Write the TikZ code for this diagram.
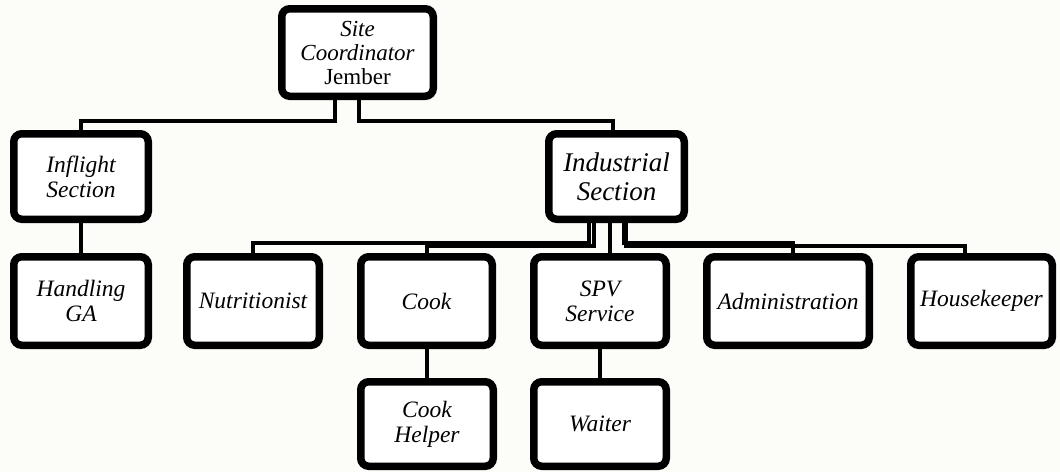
\documentclass[tikz,border=0pt]{standalone}
\usepackage{fontspec}
\setmainfont{Liberation Serif}
\usetikzlibrary{shadows}
\definecolor{bgc}{HTML}{FCFCF8}
\tikzset{
  box/.style={draw=black, line width=7.5pt, rounded corners=8pt, fill=white,
    inner sep=0pt, align=center, font=\fontsize{23.5}{25}\selectfont\itshape,
    drop shadow={opacity=0.18, shadow xshift=2pt, shadow yshift=-3pt}},
  conn/.style={draw=black, line width=4.5pt}
}
\begin{document}
\begin{tikzpicture}[x=1pt,y=-1pt]
\fill[bgc] (0,0) rectangle (1060,472);
\useasboundingbox (0,0) rectangle (1060,472);
% top
\node[box, minimum width=151.5pt, minimum height=87.5pt, font=\fontsize{23}{24}\selectfont\itshape] (site) at (357.5,52.5) {Site\\Coordinator\\\upshape Jember};
% second row
\node[box, minimum width=134.5pt, minimum height=85.5pt] (inflight) at (81,176.5) {Inflight\\Section};
\node[box, minimum width=135.5pt, minimum height=85.5pt, font=\fontsize{27}{29}\selectfont\itshape] (industrial) at (616.5,176.5) {Industrial\\Section};
% third row
\node[box, minimum width=134.5pt, minimum height=88.5pt] (handling) at (81,301) {Handling\\GA};
\node[box, minimum width=132.5pt, minimum height=88.5pt] (nutr) at (253,301) {Nutritionist};
\node[box, minimum width=131.5pt, minimum height=88.5pt] (cook) at (426.5,301) {Cook};
\node[box, minimum width=132.5pt, minimum height=88.5pt] (spv) at (600,301) {SPV\\Service};
\node[box, minimum width=162.5pt, minimum height=88.5pt] (admin) at (788,301) {Administration};
\node[box, minimum width=141.5pt, minimum height=88.5pt] (house) at (981.5,301) {Housekeeper};
% fourth row
\node[box, minimum width=132.5pt, minimum height=84.5pt] (helper) at (427,424) {Cook\\Helper};
\node[box, minimum width=132.5pt, minimum height=84.5pt] (waiter) at (600,424) {Waiter};
% connectors
\draw[conn] ([xshift=-22.5pt]site.south) |- ([yshift=9.25pt]inflight.north) -- (inflight.north);
\draw[conn] ([xshift=1.5pt]site.south) |- ([xshift=-3.5pt,yshift=9.25pt]industrial.north) -- ([xshift=-3.5pt]industrial.north);
\draw[conn] (inflight.south) -- (handling.north);
\draw[conn] ([xshift=-27.5pt]industrial.south) |- ([yshift=10.25pt]nutr.north) -- (nutr.north);
\draw[conn] ([xshift=-22.5pt]industrial.south) |- ([xshift=0.5pt,yshift=7.25pt]cook.north) -- ([xshift=0.5pt]cook.north);
\draw[conn] ([xshift=-6.5pt]industrial.south) -- ([xshift=10pt]spv.north);
\draw[conn] ([xshift=7.5pt]industrial.south) |- ([xshift=5pt,yshift=10.25pt]admin.north) -- ([xshift=5pt]admin.north);
\draw[conn] ([xshift=9.5pt]industrial.south) |- ([xshift=-16.5pt,yshift=7.25pt]house.north) -- ([xshift=-16.5pt]house.north);
\draw[conn] ([xshift=0.5pt]cook.south) -- (helper.north);
\draw[conn] (spv.south) -- (waiter.north);
\end{tikzpicture}
\end{document}
